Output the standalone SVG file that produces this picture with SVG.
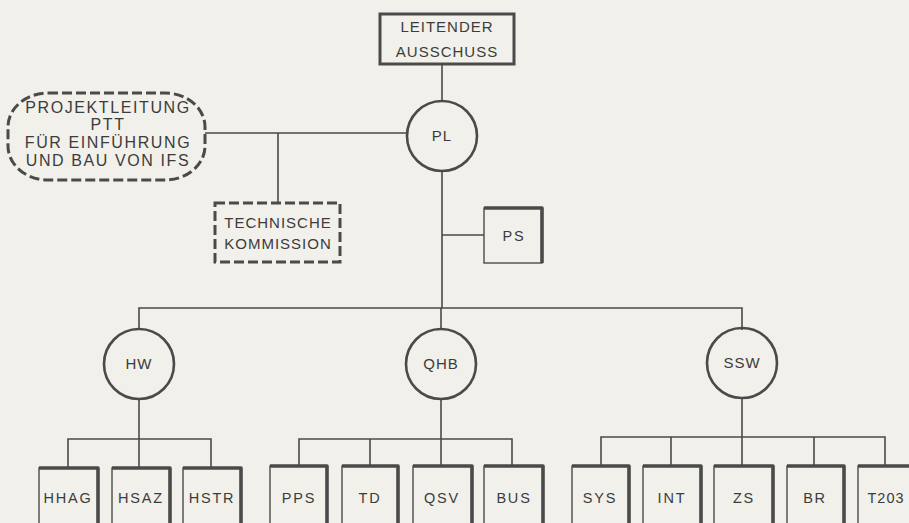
<svg xmlns="http://www.w3.org/2000/svg" width="909" height="523" viewBox="0 0 909 523">
<style>
  .ln { fill: none; stroke: #4a4a4a; stroke-width: 1.6; }
  .circ { fill: none; stroke: #4a4a4a; stroke-width: 2.6; }
  .dash { fill: none; stroke: #4a4a4a; stroke-width: 3; stroke-dasharray: 10 4; }
  .box { fill: none; stroke: #4a4a4a; stroke-width: 1.4; }
  .sh { fill: none; stroke: #4a4a4a; stroke-width: 3.6; stroke-linejoin: round; }
  .t { font-family: "Liberation Sans", Arial, sans-serif; font-size: 15px; fill: #3c3c3c; text-anchor: middle; letter-spacing: 1px; }
  .tb { font-family: "Liberation Sans", Arial, sans-serif; font-size: 14.5px; fill: #3c3c3c; text-anchor: middle; letter-spacing: 1.8px; }
  .tp { font-size: 16px; letter-spacing: 1.6px; }
</style>
<rect x="0" y="0" width="909" height="523" fill="#f1f0ea"/>
<g id="connectors">
  <line class="ln" x1="442" y1="64" x2="442" y2="101"/>
  <line class="ln" x1="205" y1="133" x2="406" y2="133"/>
  <line class="ln" x1="278" y1="133" x2="278" y2="203"/>
  <line class="ln" x1="442" y1="171" x2="442" y2="308"/>
  <line class="ln" x1="442" y1="235" x2="484" y2="235"/>
  <polyline class="ln" points="139,330 139,308 742,308 742,330"/>
  <line class="ln" x1="441" y1="308" x2="441" y2="329"/>
  <line class="ln" x1="139" y1="399" x2="139" y2="468"/>
  <polyline class="ln" points="68,468 68,439 211,439 211,468"/>
  <line class="ln" x1="441" y1="399" x2="441" y2="466"/>
  <polyline class="ln" points="299,466 299,439 512,439 512,466"/>
  <line class="ln" x1="370" y1="439" x2="370" y2="466"/>
  <line class="ln" x1="742" y1="398" x2="742" y2="466"/>
  <polyline class="ln" points="601,466 601,437 885,437 885,466"/>
  <line class="ln" x1="671" y1="437" x2="671" y2="466"/>
  <line class="ln" x1="814" y1="437" x2="814" y2="466"/>
</g>
<g id="leitender">
  <rect x="380" y="14" width="134" height="50" fill="none" stroke="#4a4a4a" stroke-width="3"/>
  <text class="t" x="447" y="32">LEITENDER</text>
  <text class="t" x="447" y="57">AUSSCHUSS</text>
</g>
<g id="pl">
  <circle class="circ" cx="442" cy="136" r="35"/>
  <text class="t" x="442" y="141">PL</text>
</g>
<g id="projektleitung">
  <rect class="dash" x="8" y="93" width="197" height="87" rx="40" ry="34"/>
  <text class="t tp" x="108" y="113">PROJEKTLEITUNG</text>
  <text class="t tp" x="108" y="130">PTT</text>
  <text class="t tp" x="108" y="148">FÜR EINFÜHRUNG</text>
  <text class="t tp" x="108" y="166">UND BAU VON IFS</text>
</g>
<g id="technische">
  <rect class="dash" x="215" y="203" width="125" height="59"/>
  <text class="t" x="278" y="228">TECHNISCHE</text>
  <text class="t" x="278" y="249">KOMMISSION</text>
</g>
<g id="ps">
  <rect class="box" x="484" y="208" width="58" height="55"/>
  <polyline class="sh" points="484,208 542,208 542,263"/>
  <text class="tb" x="514" y="241">PS</text>
</g>
<g id="hw">
  <circle class="circ" cx="139" cy="364" r="35"/>
  <text class="t" x="139" y="369">HW</text>
</g>
<g id="qhb">
  <circle class="circ" cx="441" cy="364" r="35"/>
  <text class="t" x="441" y="369">QHB</text>
</g>
<g id="ssw">
  <circle class="circ" cx="742" cy="363" r="35"/>
  <text class="t" x="742" y="368">SSW</text>
</g>
<g id="hhag"><rect class="box" x="39" y="468" width="59" height="70"/><polyline class="sh" points="39,468 98,468 98,530"/><text class="tb" x="68" y="503">HHAG</text></g>
<g id="hsaz"><rect class="box" x="112" y="468" width="58" height="70"/><polyline class="sh" points="112,468 170,468 170,530"/><text class="tb" x="141" y="503">HSAZ</text></g>
<g id="hstr"><rect class="box" x="183" y="468" width="58" height="70"/><polyline class="sh" points="183,468 241,468 241,530"/><text class="tb" x="212" y="503">HSTR</text></g>
<g id="pps"><rect class="box" x="270" y="466" width="57" height="70"/><polyline class="sh" points="270,466 327,466 327,530"/><text class="tb" x="299" y="503">PPS</text></g>
<g id="td"><rect class="box" x="342" y="466" width="56" height="70"/><polyline class="sh" points="342,466 398,466 398,530"/><text class="tb" x="370" y="503">TD</text></g>
<g id="qsv"><rect class="box" x="413" y="466" width="59" height="70"/><polyline class="sh" points="413,466 472,466 472,530"/><text class="tb" x="442" y="503">QSV</text></g>
<g id="bus"><rect class="box" x="484" y="466" width="59" height="70"/><polyline class="sh" points="484,466 543,466 543,530"/><text class="tb" x="514" y="503">BUS</text></g>
<g id="sys"><rect class="box" x="572" y="466" width="57" height="70"/><polyline class="sh" points="572,466 629,466 629,530"/><text class="tb" x="600" y="503">SYS</text></g>
<g id="int"><rect class="box" x="643" y="466" width="58" height="70"/><polyline class="sh" points="643,466 701,466 701,530"/><text class="tb" x="672" y="503">INT</text></g>
<g id="zs"><rect class="box" x="714" y="466" width="59" height="70"/><polyline class="sh" points="714,466 773,466 773,530"/><text class="tb" x="744" y="503">ZS</text></g>
<g id="br"><rect class="box" x="787" y="466" width="57" height="70"/><polyline class="sh" points="787,466 844,466 844,530"/><text class="tb" x="815" y="503">BR</text></g>
<g id="t203"><rect class="box" x="858" y="466" width="60" height="70"/><polyline class="sh" points="858,466 918,466 918,530"/><text class="tb" x="886" y="503" style="letter-spacing:1px">T203</text></g>
</svg>
